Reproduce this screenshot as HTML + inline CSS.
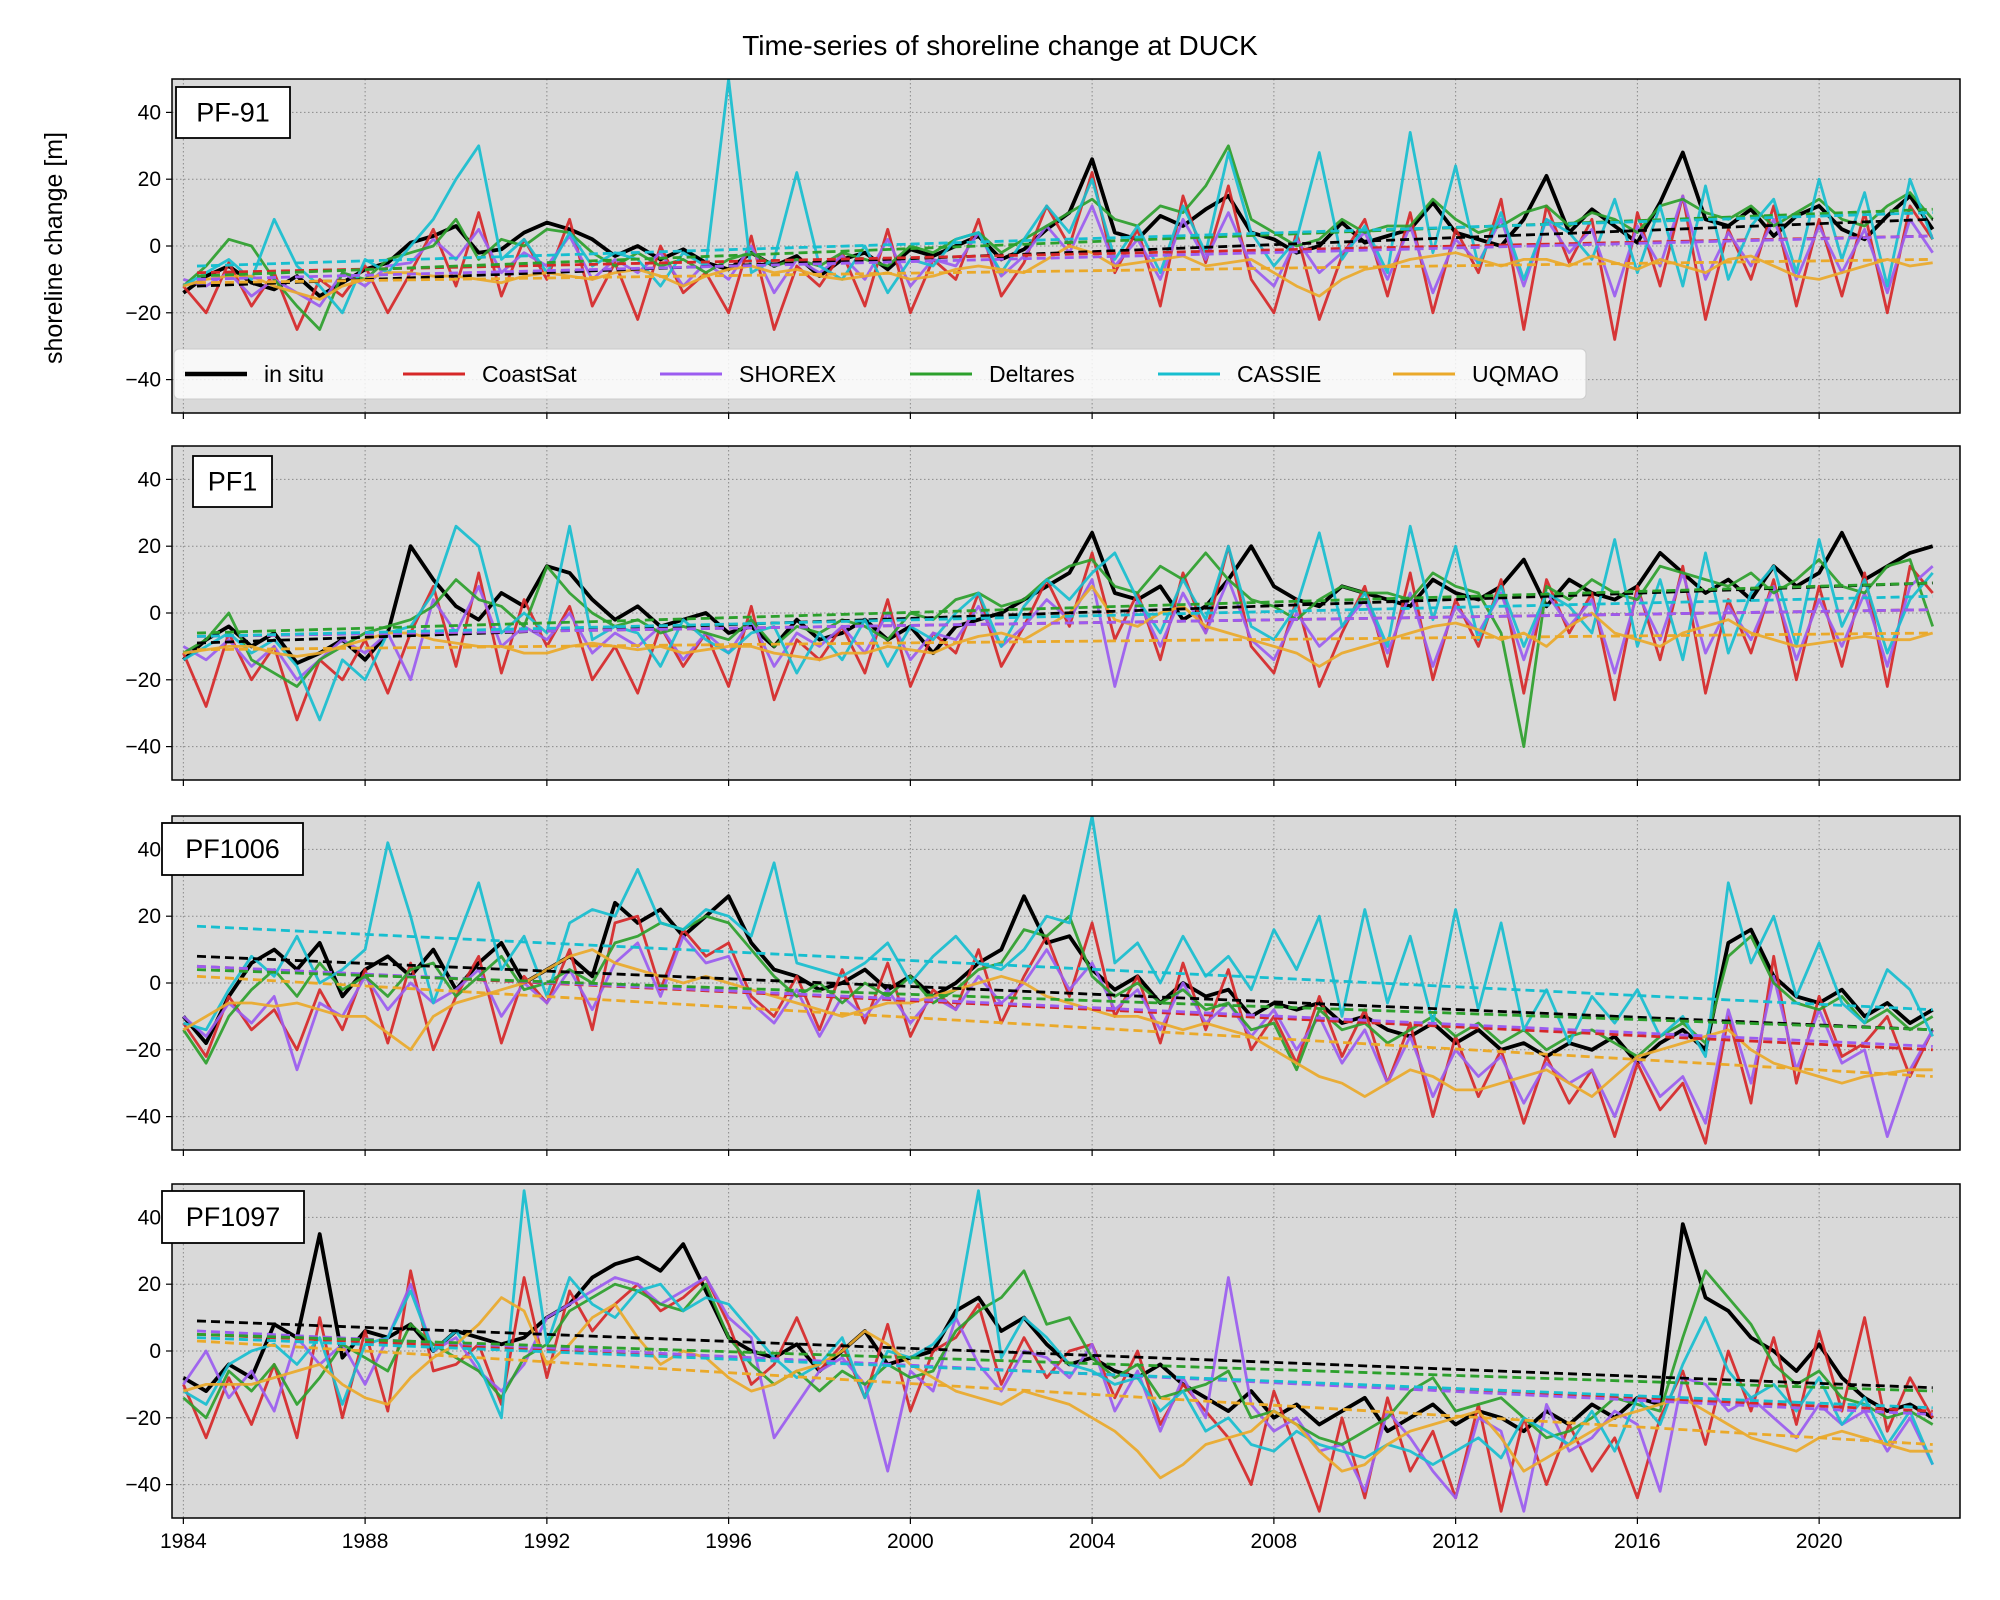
<!DOCTYPE html>
<html><head><meta charset="utf-8">
<style>
html,body{margin:0;padding:0;background:#fff;}
svg{display:block;font-family:"Liberation Sans","DejaVu Sans",sans-serif;}
</style></head>
<body>
<svg id="chart" width="2000" height="1600" viewBox="0 0 2000 1600" xmlns="http://www.w3.org/2000/svg">
<text x="1000" y="55" font-size="28" text-anchor="middle">Time-series of shoreline change at DUCK</text>
<text transform="translate(62,248) rotate(-90)" font-size="25" text-anchor="middle">shoreline change [m]</text>
</svg>
<script>
const years = [1984,1984.5,1985,1985.5,1986,1986.5,1987,1987.5,1988,1988.5,1989,1989.5,1990,1990.5,1991,1991.5,1992,1992.5,1993,1993.5,1994,1994.5,1995,1995.5,1996,1996.5,1997,1997.5,1998,1998.5,1999,1999.5,2000,2000.5,2001,2001.5,2002,2002.5,2003,2003.5,2004,2004.5,2005,2005.5,2006,2006.5,2007,2007.5,2008,2008.5,2009,2009.5,2010,2010.5,2011,2011.5,2012,2012.5,2013,2013.5,2014,2014.5,2015,2015.5,2016,2016.5,2017,2017.5,2018,2018.5,2019,2019.5,2020,2020.5,2021,2021.5,2022,2022.5];
const seriesNames = ["in situ","CoastSat","SHOREX","Deltares","CASSIE","UQMAO"];
const panelNames = ["PF-91","PF1","PF1006","PF1097"];
const yTicks = [-40,-20,0,20,40];
const xTicks = [1984,1988,1992,1996,2000,2004,2008,2012,2016,2020];

const insitu1=[-14,-9,-6,-11,-13,-9,-15,-11,-7,-5,1,3,6,-2,-1,4,7,5,2,-3,0,-4,-1,-5,-7,-2,-6,-3,-9,-4,-2,-7,-1,-3,0,3,-4,-1,5,10,26,4,2,9,6,11,15,4,2,-2,0,7,1,3,5,13,4,2,0,8,21,4,11,6,1,13,28,8,6,11,3,9,12,5,2,9,15,5];
const coastsat1=[-12,-20,-5,-18,-8,-25,-10,-15,-6,-20,-8,5,-12,10,-15,2,-10,8,-18,-5,-22,0,-14,-8,-20,3,-25,-6,-12,-2,-18,5,-20,-4,-10,8,-15,-5,12,0,22,-8,5,-18,15,-5,18,-10,-20,4,-22,-3,8,-15,10,-20,5,-8,14,-25,12,-5,8,-28,10,-12,15,-22,5,-10,12,-18,8,-15,10,-20,12,2];
const shorex1=[-10,-12,-8,-15,-10,-14,-18,-8,-12,-6,-5,2,-4,5,-8,-2,-6,3,-10,-4,-8,-2,-12,-5,-10,0,-14,-4,-8,-3,-10,2,-12,-4,-6,4,-9,-3,6,-2,12,-6,2,-10,8,-4,10,-6,-12,2,-8,-2,4,-10,6,-14,2,-5,8,-12,8,-2,5,-15,6,-6,15,-10,4,-6,8,-10,6,-8,5,-14,8,-2];
const deltares1=[-12,-6,2,0,-10,-18,-25,-8,-10,-4,-2,0,8,-4,2,0,5,4,-2,-6,-2,-6,-4,-8,-4,-2,-6,-4,-6,-2,-4,-6,0,-2,2,4,-2,2,6,10,14,8,6,12,10,18,30,8,4,0,2,8,4,6,6,14,8,4,6,10,12,6,10,8,4,12,14,10,8,12,6,10,14,8,6,12,16,8];
const cassie1=[-12,-8,-4,-10,8,-6,-12,-20,-4,-8,0,8,20,30,-4,2,-8,4,-6,-2,-4,-12,-2,-6,50,-8,-4,22,-6,-10,0,-14,-4,-6,2,4,-8,2,12,4,20,-4,6,-8,12,-2,28,4,-6,2,28,-4,6,-8,34,-2,24,-6,10,-10,8,4,-4,14,-8,12,-12,18,-10,6,14,-8,20,-4,16,-12,20,2];
const uqmao1=[-12,-10,-9,-9,-12,-14,-16,-12,-10,-8,-8,-9,-9,-10,-11,-9,-8,-9,-10,-8,-7,-9,-12,-9,-7,-6,-8,-7,-9,-10,-9,-8,-10,-9,-7,-6,-7,-8,-4,0,-2,-6,-5,-4,-3,-6,-5,-4,-8,-12,-15,-10,-7,-6,-4,-3,-2,-4,-6,-4,-4,-6,-3,-5,-7,-4,-6,-8,-4,-3,-6,-9,-10,-8,-6,-4,-6,-5];
const trendStart1=[-12,-8,-10,-9,-6,-11];
const trendEnd1=[8,3,3,11,10,-4];

const insitu2=[-14,-8,-4,-10,-6,-15,-12,-8,-14,-6,20,10,2,-2,6,2,14,12,4,-2,2,-4,-2,0,-6,-4,-10,-2,-8,-6,-2,-8,-4,-12,-4,-2,0,4,8,12,24,6,4,8,-2,2,10,20,8,4,2,8,6,4,2,10,6,4,8,16,2,10,6,4,8,18,12,6,10,4,14,8,12,24,10,14,18,20];
const coastsat2=[-12,-28,-6,-20,-10,-32,-14,-20,-8,-24,-6,8,-16,12,-18,4,-10,2,-20,-10,-24,-4,-16,-6,-22,2,-26,-8,-14,-4,-18,4,-22,-6,-12,6,-16,-4,10,-4,18,-8,6,-14,12,-6,20,-10,-18,4,-22,-6,8,-16,12,-20,4,-10,10,-24,10,-6,6,-26,8,-14,14,-24,4,-12,10,-20,8,-16,12,-22,14,6];
const shorex2=[-10,-14,-8,-16,-10,-20,-14,-8,-12,-6,-20,4,-6,8,-10,-4,-8,0,-12,-6,-10,-4,-14,-6,-12,-2,-16,-6,-10,-4,-12,0,-14,-6,-8,2,-10,-4,4,-2,10,-22,4,-10,6,-6,10,-8,-14,0,-10,-4,4,-12,6,-16,2,-6,6,-14,6,-4,4,-18,6,-8,12,-12,2,-8,8,-14,4,-10,6,-16,8,14];
const deltares2=[-12,-8,0,-14,-18,-22,-14,-10,-6,-4,-2,2,10,4,2,-4,14,6,0,-4,-2,-6,-4,-6,-8,-2,-10,-4,-6,-2,-4,-8,0,-2,4,6,2,4,10,14,16,8,6,14,10,18,10,4,2,-2,4,8,6,6,4,12,8,6,-6,-40,8,4,10,6,4,14,12,10,8,12,6,10,16,8,6,14,16,-4];
const cassie2=[-14,-10,-6,-12,-8,-16,-32,-14,-20,-6,-4,6,26,20,-6,0,-6,26,-8,-4,-6,-16,-2,-8,-12,-6,-4,-18,-6,-14,-2,-16,-4,-8,0,6,-10,2,10,4,12,18,4,-6,10,-2,20,-4,-8,2,24,-4,6,-10,26,-2,20,-8,8,-10,6,2,-6,22,-10,10,-14,18,-12,6,14,-10,22,-4,10,-12,4,12];
const uqmao2=[-12,-11,-10,-10,-12,-13,-12,-10,-8,-6,-6,-8,-9,-10,-10,-12,-12,-10,-9,-10,-11,-10,-12,-11,-10,-10,-12,-13,-14,-12,-12,-10,-11,-12,-9,-7,-6,-8,-4,0,8,-2,-4,0,2,-4,-6,-8,-10,-12,-16,-12,-10,-8,-6,-4,-3,-5,-8,-6,-10,-4,0,-6,-8,-10,-6,-4,-2,-6,-8,-10,-9,-8,-7,-8,-8,-6];
const trendStart2=[-9,-7,-7,-6,-7,-11];
const trendEnd2=[9,1,1,9,5,-6];

const insitu3=[-10,-18,-4,6,10,4,12,-4,4,8,2,10,-2,6,12,0,4,8,2,24,18,22,14,20,26,12,4,2,-2,0,4,-2,2,-4,0,6,10,26,12,14,4,-2,2,-6,0,-4,-2,-10,-6,-8,-6,-12,-10,-14,-16,-12,-18,-14,-20,-18,-22,-18,-20,-16,-24,-18,-14,-20,12,16,2,-4,-6,-2,-10,-6,-12,-8];
const coastsat3=[-12,-22,-4,-14,-8,-20,-2,-14,4,-18,6,-20,-4,8,-18,2,-6,10,-14,18,20,-2,16,8,12,-4,-10,2,-14,4,-12,6,-16,-2,-8,10,-12,2,14,-4,18,-10,2,-18,6,-14,4,-20,-10,-24,-4,-22,-8,-30,-12,-40,-16,-34,-20,-42,-22,-36,-26,-46,-24,-38,-30,-48,-10,-36,8,-30,-4,-22,-18,-10,-28,-14];
const shorex3=[-10,-16,-6,-12,-4,-26,-6,-10,2,-8,0,-6,-2,4,-10,0,-6,4,-8,6,12,-4,14,6,8,-6,-12,-2,-16,-4,-10,-2,-12,-4,-8,2,-6,0,10,-2,6,-8,-2,-14,0,-12,-6,-16,-8,-20,-10,-24,-14,-30,-16,-34,-20,-28,-22,-36,-24,-30,-26,-40,-22,-34,-28,-42,-8,-30,2,-26,-8,-24,-20,-46,-26,-14];
const deltares3=[-14,-24,-10,-2,4,-4,6,-2,2,-4,4,6,-4,2,8,-2,0,4,0,12,14,18,16,20,18,10,2,-4,0,-6,0,-4,2,-6,-2,4,6,16,14,20,2,-4,0,-6,-2,-8,-6,-14,-12,-26,-8,-14,-12,-18,-14,-10,-16,-12,-18,-14,-20,-16,-14,-18,-22,-16,-12,-18,8,14,0,-6,-8,-4,-12,-8,-14,-10];
const cassie3=[-12,-14,-2,8,2,14,0,4,10,42,20,-6,12,30,4,14,-4,18,22,20,34,18,16,22,20,14,36,6,4,2,6,12,0,8,14,6,4,10,20,18,50,6,12,0,14,2,8,-2,16,4,20,-10,22,-6,14,-12,22,-8,18,-14,-2,-18,-4,-12,-2,-16,-10,-22,30,6,20,-4,12,-6,-12,4,-2,-16];
const uqmao3=[-14,-10,-6,-6,-7,-6,-8,-10,-10,-15,-20,-10,-6,-4,-2,0,4,8,10,6,4,2,0,2,0,-2,-4,-6,-8,-10,-8,-6,-6,-4,-2,0,2,0,-4,-6,-8,-10,-10,-12,-14,-12,-14,-16,-20,-24,-28,-30,-34,-30,-26,-28,-32,-32,-30,-28,-26,-30,-34,-28,-22,-20,-18,-16,-14,-20,-24,-26,-28,-30,-28,-27,-26,-26];
const trendStart3=[8,5,5,4,17,2];
const trendEnd3=[-14,-20,-19,-14,-8,-28];

const insitu4=[-8,-12,-4,-8,8,4,35,-2,6,4,8,0,6,4,2,4,10,14,22,26,28,24,32,18,4,0,-2,2,-6,0,6,-4,-2,0,12,16,6,10,2,-4,-2,-6,-8,-4,-10,-14,-18,-12,-20,-16,-22,-18,-14,-24,-20,-16,-22,-18,-20,-24,-18,-22,-16,-20,-14,-16,38,16,12,4,0,-6,2,-8,-14,-18,-16,-20];
const coastsat4=[-10,-26,-8,-22,-4,-26,10,-20,6,-18,24,-6,-4,2,-16,22,-8,18,6,14,20,12,16,22,8,-10,-4,10,-6,2,-14,8,-18,0,4,14,-10,4,-8,0,2,-14,0,-22,-10,-18,-26,-40,-12,-30,-48,-20,-44,-14,-36,-24,-44,-16,-48,-20,-40,-22,-36,-26,-44,-20,-6,-28,0,-18,4,-22,6,-18,10,-24,-8,-20];
const shorex4=[-10,0,-14,-6,-18,4,-4,2,-10,4,20,0,4,-6,-12,-4,10,14,18,22,20,14,18,22,10,4,-26,-16,-6,-2,-10,-36,-6,-12,10,-4,-12,0,-2,-8,2,-18,-6,-24,-8,-20,22,-16,-24,-20,-30,-28,-42,-18,-26,-36,-44,-20,-24,-48,-16,-30,-26,-18,-22,-42,-8,-10,-18,-14,-20,-26,-16,-22,-18,-30,-20,-34];
const deltares4=[-14,-20,-6,-12,-4,-16,-8,2,-2,-6,8,2,-2,-6,-14,-2,2,12,16,20,18,14,12,20,4,-4,-10,-6,-12,-6,-10,-4,-8,-6,6,12,16,24,8,10,-2,-8,-4,-14,-12,-10,-6,-20,-18,-22,-26,-28,-24,-20,-12,-8,-18,-16,-14,-20,-26,-24,-20,-14,-16,-18,4,24,16,8,-4,-10,-6,-14,-16,-20,-18,-22];
const cassie4=[-12,-16,-4,0,2,-4,4,-16,2,4,18,0,6,-4,-20,48,2,22,14,10,18,20,12,16,14,6,-2,-8,-4,4,-14,0,-2,2,10,48,-2,10,4,-4,-6,-10,-8,-18,-12,-24,-20,-28,-30,-24,-28,-30,-32,-28,-30,-34,-30,-26,-32,-20,-24,-28,-18,-30,-14,-22,-4,10,-6,-14,-10,-18,-8,-22,-14,-28,-18,-34];
const uqmao4=[-12,-10,-10,-10,-8,-6,-4,-10,-14,-16,-8,-2,2,8,16,12,-4,2,10,14,4,-4,0,-2,-8,-12,-10,-6,-4,0,6,2,-4,-8,-12,-14,-16,-12,-14,-16,-20,-24,-30,-38,-34,-28,-26,-24,-18,-22,-30,-36,-34,-28,-24,-22,-20,-18,-26,-36,-32,-28,-24,-20,-18,-16,-14,-18,-22,-26,-28,-30,-26,-24,-26,-28,-30,-30];
const trendStart4=[9,5,6,5,4,3];
const trendEnd4=[-11,-18,-19,-12,-17,-28];

const panelSeries=[[insitu1,coastsat1,shorex1,deltares1,cassie1,uqmao1],[insitu2,coastsat2,shorex2,deltares2,cassie2,uqmao2],[insitu3,coastsat3,shorex3,deltares3,cassie3,uqmao3],[insitu4,coastsat4,shorex4,deltares4,cassie4,uqmao4]];
const panelTrendStart=[trendStart1,trendStart2,trendStart3,trendStart4];
const panelTrendEnd=[trendEnd1,trendEnd2,trendEnd3,trendEnd4];

const NS="http://www.w3.org/2000/svg";
const svg=document.getElementById('chart');
const colors=["#000000","#d62728","#9b5cf0","#2ca02c","#17becf","#eaa92a"];
const widths=[3.8,2.8,2.8,2.8,2.8,2.8];
const L=172,R=1960;
const tops=[79,446,816,1184],H=334;
const X0=1983.75,X1=2023.1;
function xs(v){return L+(v-X0)/(X1-X0)*(R-L);}
function ysF(top){return v=>top+(50-v)/100*H;}
function mk(tag,attrs,parent){const e=document.createElementNS(NS,tag);for(const k in attrs)e.setAttribute(k,attrs[k]);(parent||svg).appendChild(e);return e;}
const clipDefs=mk('defs',{});

for(let p=0;p<4;p++){
  const top=tops[p],ys=ysF(top);
  const g=mk('g',{});
  
  
  const cp=mk('clipPath',{id:'cp'+p},clipDefs);
  mk('rect',{x:L,y:top,width:R-L,height:H},cp);
  const bg=mk('rect',{x:L,y:top,width:R-L,height:H,fill:'#d9d9d9'},g);
  
  
  xTicks.forEach(t=>{
    const gl=mk('line',{x1:xs(t),x2:xs(t),y1:top,y2:top+H,stroke:'#8a8a8a','stroke-width':1,'stroke-dasharray':'1.5,2.5'},g);
    
    
    mk('line',{x1:xs(t),x2:xs(t),y1:top+H,y2:top+H+6,stroke:'#000','stroke-width':1.2},g);
    if(p===3){const tx=mk('text',{x:xs(t),y:top+H+30,'font-size':21,'text-anchor':'middle'},g);tx.textContent=t;
      
      }
  });
  yTicks.forEach(t=>{
    const gl=mk('line',{x1:L,x2:R,y1:ys(t),y2:ys(t),stroke:'#8a8a8a','stroke-width':1,'stroke-dasharray':'1.5,2.5'},g);
    
    
    mk('line',{x1:L-6,x2:L,y1:ys(t),y2:ys(t),stroke:'#000','stroke-width':1.2},g);
    const tx=mk('text',{x:L-11,y:ys(t)+7,'font-size':21,'text-anchor':'end'},g);tx.textContent=(t<0?'\u2212'+(-t):t);
    
    
  });
  const dg=mk('g',{'clip-path':'url(#cp'+p+')'},g);
  panelSeries[p].forEach((vals,s)=>{
    const n=Math.min(vals.length,years.length);
    let d='';for(let i=0;i<n;i++)d+=(i?'L':'M')+xs(years[i]).toFixed(1)+','+ys(vals[i]).toFixed(1);
    const pl=mk('path',{d:d,fill:'none',stroke:colors[s],'stroke-width':widths[s],'stroke-linejoin':'round',opacity:s===0?1:0.92},dg);
    
    
  });
  panelTrendStart[p].forEach((v,s)=>{
    const tl=mk('line',{x1:xs(1984.3),x2:xs(2022.5),y1:ys(v),y2:ys(panelTrendEnd[p][s]),stroke:colors[s],'stroke-width':2.8,'stroke-dasharray':'9,5'},dg);
    
    
  });
  const fr=mk('rect',{x:L,y:top,width:R-L,height:H,fill:'none',stroke:'#000','stroke-width':1.5},g);
  
  
  const boxes=[[176,87,114,51],[193,456,79,51],[162,823,141,52],[162,1191,142,52]];
  const b=boxes[p];
  const lb=mk('g',{},g);
  
  
  mk('rect',{x:b[0],y:b[1],width:b[2],height:b[3],fill:'#fff',stroke:'#000','stroke-width':1.8},lb);
  const lt=mk('text',{x:b[0]+b[2]/2,y:b[1]+b[3]/2+9,'font-size':27,'text-anchor':'middle'},lb);lt.textContent=panelNames[p];
}

const lg=mk('g',{});


mk('rect',{x:174,y:349,width:1412,height:50,rx:5,fill:'#ffffff','fill-opacity':0.82,stroke:'#cccccc','stroke-width':1},lg);
const legX=[185,403,660,910,1158,1393];
seriesNames.forEach((nm,s)=>{
  const e=mk('g',{},lg);
  
  
  mk('line',{x1:legX[s],x2:legX[s]+62,y1:374,y2:374,stroke:colors[s],'stroke-width':s===0?4.5:3},e);
  const t=mk('text',{x:legX[s]+79,y:382,'font-size':23},e);t.textContent=nm;
});
</script>
</body></html>
